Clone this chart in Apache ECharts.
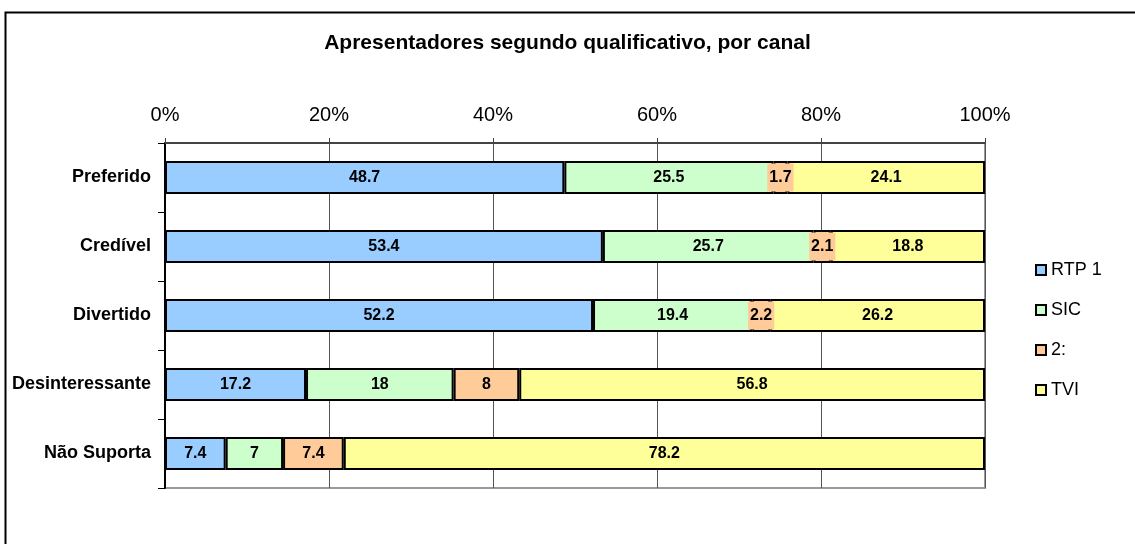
<!DOCTYPE html>
<html>
<head>
<meta charset="utf-8">
<script src="https://cdn.jsdelivr.net/npm/echarts@6/dist/echarts.min.js"></script>
<style>
  html, body { margin: 0; padding: 0; background: #fff; }
  #chart { width: 1135px; height: 544px; }
</style>
</head>
<body>
<div id="chart"></div>
<script>
const categories = ['Preferido', 'Credível', 'Divertido', 'Desinteressante', 'Não Suporta']
const rtp1 = [48.7, 53.4, 52.2, 17.2, 7.4]
const sic = [25.5, 25.7, 19.4, 18, 7]
const dois = [1.7, 2.1, 2.2, 8, 7.4]
const tvi = [24.1, 18.8, 26.2, 56.8, 78.2]

const chart = echarts.init(document.getElementById('chart'))

const makeSeries = (name, data, color, extraLabel) => ({
  name: name,
  type: 'bar',
  stack: 'total',
  data: data,
  barWidth: 33,
  itemStyle: {
    color: color,
    borderColor: '#000',
    borderWidth: 2
  },
  label: Object.assign({
    show: true,
    position: 'inside',
    color: '#000',
    fontFamily: 'Liberation Sans, Arial',
    fontWeight: 'bold',
    fontSize: 16
  }, extraLabel || {})
})

const option = {
  animation: false,
  backgroundColor: '#fff',
  title: {
    text: 'Apresentadores segundo qualificativo, por canal',
    left: 'center',
    top: 28,
    textStyle: {
      fontFamily: 'Liberation Sans, Arial',
      fontSize: 21,
      fontWeight: 'bold',
      color: '#000'
    }
  },
  graphic: [
    {
      type: 'polyline',
      shape: { points: [[5.5, 600], [5.5, 12.5], [1200, 12.5]] },
      style: { stroke: '#000', lineWidth: 2, fill: null }
    }
  ],
  legend: {
    orient: 'vertical',
    left: 1030,
    top: 256,
    itemWidth: 10,
    itemHeight: 10,
    itemGap: 22,
    icon: 'rect',
    itemStyle: { borderColor: '#000', borderWidth: 2 },
    textStyle: {
      fontFamily: 'Liberation Sans, Arial',
      fontSize: 18,
      color: '#000'
    },
    data: ['RTP 1', 'SIC', '2:', 'TVI']
  },
  grid: {
    left: 165,
    right: 150,
    top: 143,
    bottom: 56,
    show: true,
    borderColor: '#999',
    borderWidth: 2
  },
  xAxis: {
    type: 'value',
    position: 'top',
    min: 0,
    max: 100,
    interval: 20,
    axisLabel: {
      formatter: '{value}%',
      margin: 18,
      color: '#000',
      fontFamily: 'Liberation Sans, Arial',
      fontSize: 20
    },
    axisLine: { show: true, lineStyle: { color: '#444', width: 2 } },
    axisTick: { show: true, length: 5, lineStyle: { color: '#444' } },
    splitLine: { show: true, lineStyle: { color: '#555', width: 1 } }
  },
  yAxis: {
    type: 'category',
    inverse: true,
    data: categories,
    axisLine: { show: true, lineStyle: { color: '#000', width: 2 } },
    axisTick: { show: true, length: 7, lineStyle: { color: '#000' } },
    axisLabel: {
      margin: 14,
      color: '#000',
      fontFamily: 'Liberation Sans, Arial',
      fontWeight: 'bold',
      fontSize: 18
    }
  },
  series: [
    makeSeries('RTP 1', rtp1, '#99CCFF'),
    makeSeries('SIC', sic, '#CCFFCC'),
    makeSeries('2:', dois, '#FFCC99', { backgroundColor: '#FFCC99', padding: [6, 2] }),
    makeSeries('TVI', tvi, '#FFFF99')
  ]
}

chart.setOption(option)
</script>
</body>
</html>
